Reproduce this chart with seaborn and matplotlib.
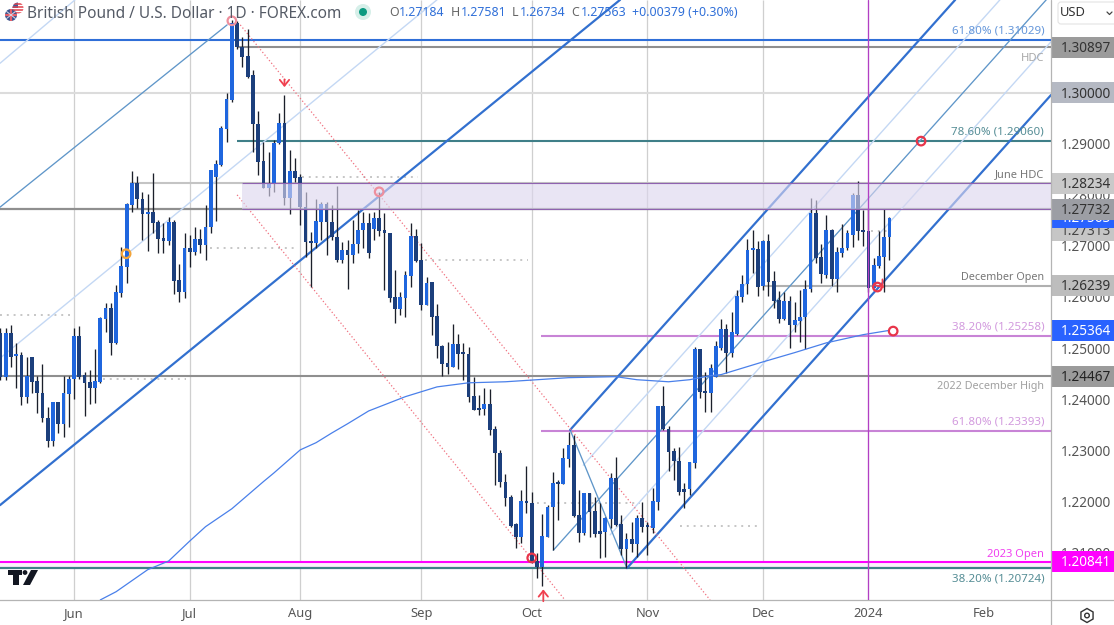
import numpy as np
import pandas as pd
import seaborn as sns
import matplotlib
matplotlib.use('Agg')
import matplotlib.pyplot as plt
from matplotlib.patches import Circle, Polygon, FancyBboxPatch, RegularPolygon

# daily candles, bar -14 is mid May 2023, bar 0 is 1 Jun 2023
opens = [
    1.2532,1.2446,1.2532,1.2487,1.2489,1.2407,1.2485,1.2438,1.2414,1.2366,
    1.2321,1.2397,1.2354,1.2413,1.2442,1.2526,1.2450,1.2436,1.2424,1.2436,
    1.2559,1.2580,1.2512,1.2610,1.2661,1.2782,1.2825,1.2793,1.2764,1.2768,
    1.2748,1.2717,1.2711,1.2748,1.2635,1.2612,1.2698,1.2690,1.2715,1.2704,
    1.2739,1.2836,1.2860,1.2930,1.2987,1.3137,1.3090,1.3073,1.3035,1.2940,
    1.2868,1.2815,1.2825,1.2903,1.2942,1.2795,1.2848,1.2836,1.2778,1.2711,
    1.2707,1.2748,1.2784,1.2748,1.2719,1.2674,1.2694,1.2684,1.2705,1.2733,
    1.2746,1.2735,1.2756,1.2733,1.2727,1.2602,1.2579,1.2600,1.2643,1.2721,
    1.2674,1.2586,1.2631,1.2565,1.2506,1.2473,1.2465,1.2510,1.2493,1.2491,
    1.2409,1.2383,1.2383,1.2393,1.2344,1.2297,1.2241,1.2211,1.2159,1.2133,
    1.2204,1.2200,1.2086,1.2075,1.2133,1.2192,1.2239,1.2237,1.2286,1.2313,
    1.2176,1.2141,1.2219,1.2184,1.2145,1.2143,1.2168,1.2248,1.2159,1.2110,
    1.2129,1.2120,1.2170,1.2155,1.2151,1.2202,1.2389,1.2344,1.2301,1.2282,
    1.2227,1.2227,1.2278,1.2500,1.2416,1.2414,1.2446,1.2502,1.2539,1.2493,
    1.2530,1.2602,1.2627,1.2694,1.2696,1.2623,1.2711,1.2633,1.2596,1.2559,
    1.2594,1.2547,1.2555,1.2563,1.2618,1.2766,1.2680,1.2645,1.2733,1.2637,
    1.2688,1.2698,1.2723,1.2801,1.2733,1.2731,1.2620,1.2663,1.2680,1.27184]
highs = [
    1.2541,1.2541,1.2547,1.2512,1.2495,1.2485,1.2485,1.2448,1.2471,1.2387,
    1.2397,1.2397,1.2448,1.2448,1.2541,1.2545,1.2455,1.2459,1.2500,1.2563,
    1.2590,1.2590,1.2625,1.2700,1.2785,1.2848,1.2838,1.2807,1.2803,1.2844,
    1.2752,1.2746,1.2758,1.2752,1.2666,1.2727,1.2723,1.2739,1.2735,1.2782,
    1.2850,1.2870,1.2936,1.3000,1.3143,1.3140,1.3110,1.3125,1.3045,1.2965,
    1.2905,1.2885,1.2909,1.2961,1.2996,1.2889,1.2873,1.2842,1.2807,1.2729,
    1.2793,1.2787,1.2787,1.2782,1.2819,1.2709,1.2713,1.2752,1.2772,1.2768,
    1.2766,1.2768,1.2807,1.2766,1.2727,1.2655,1.2612,1.2653,1.2746,1.2735,
    1.2707,1.2641,1.2631,1.2588,1.2508,1.2514,1.2549,1.2530,1.2512,1.2504,
    1.2446,1.2411,1.2424,1.2422,1.2350,1.2303,1.2256,1.2215,1.2161,1.2225,
    1.2272,1.2221,1.2102,1.2178,1.2196,1.2260,1.2245,1.2307,1.2338,1.2332,
    1.2225,1.2219,1.2219,1.2211,1.2200,1.2172,1.2258,1.2290,1.2176,1.2141,
    1.2163,1.2176,1.2202,1.2163,1.2229,1.2389,1.2428,1.2350,1.2307,1.2309,
    1.2239,1.2280,1.2504,1.2500,1.2455,1.2471,1.2516,1.2559,1.2549,1.2573,
    1.2616,1.2645,1.2715,1.2733,1.2711,1.2713,1.2725,1.2653,1.2614,1.2612,
    1.2604,1.2592,1.2616,1.2635,1.2795,1.2791,1.2705,1.2762,1.2735,1.2700,
    1.2745,1.2733,1.2805,1.2829,1.2772,1.2774,1.2678,1.2731,1.2774,1.27581]
lows = [
    1.2440,1.2440,1.2465,1.2424,1.2391,1.2395,1.2414,1.2375,1.2358,1.2309,
    1.2311,1.2336,1.2329,1.2348,1.2403,1.2442,1.2370,1.2393,1.2395,1.2434,
    1.2534,1.2489,1.2510,1.2602,1.2629,1.2768,1.2776,1.2713,1.2692,1.2727,
    1.2688,1.2688,1.2704,1.2608,1.2592,1.2600,1.2661,1.2684,1.2688,1.2674,
    1.2727,1.2750,1.2858,1.2905,1.2983,1.3086,1.3051,1.3030,1.2885,1.2840,
    1.2815,1.2799,1.2807,1.2901,1.2782,1.2764,1.2827,1.2743,1.2680,1.2621,
    1.2698,1.2713,1.2684,1.2713,1.2670,1.2668,1.2618,1.2668,1.2688,1.2698,
    1.2678,1.2713,1.2721,1.2616,1.2592,1.2551,1.2567,1.2563,1.2621,1.2670,
    1.2577,1.2586,1.2528,1.2483,1.2448,1.2452,1.2465,1.2461,1.2440,1.2397,
    1.2381,1.2372,1.2372,1.2332,1.2235,1.2231,1.2194,1.2153,1.2112,1.2121,
    1.2180,1.2082,1.2053,1.2037,1.2133,1.2108,1.2166,1.2237,1.2270,1.2172,
    1.2123,1.2137,1.2133,1.2133,1.2092,1.2094,1.2151,1.2155,1.2098,1.2073,
    1.2104,1.2094,1.2143,1.2098,1.2141,1.2186,1.2342,1.2262,1.2245,1.2215,
    1.2190,1.2215,1.2268,1.2405,1.2377,1.2377,1.2446,1.2498,1.2454,1.2485,
    1.2528,1.2592,1.2608,1.2649,1.2604,1.2616,1.2604,1.2580,1.2551,1.2557,
    1.2502,1.2534,1.2514,1.2500,1.2612,1.2668,1.2629,1.2639,1.2623,1.2612,
    1.2680,1.2694,1.2700,1.2713,1.2702,1.2612,1.2620,1.2659,1.2612,1.26734]
closes = [
    1.2446,1.2532,1.2485,1.2489,1.2407,1.2448,1.2436,1.2414,1.2366,1.2321,
    1.2397,1.2354,1.2414,1.2442,1.2526,1.2446,1.2434,1.2424,1.2438,1.2561,
    1.2580,1.2512,1.2612,1.2663,1.2784,1.2825,1.2793,1.2764,1.2768,1.2746,
    1.2715,1.2711,1.2748,1.2633,1.2612,1.2698,1.2690,1.2715,1.2704,1.2739,
    1.2850,1.2862,1.2932,1.2989,1.3137,1.3090,1.3071,1.3032,1.2940,1.2866,
    1.2815,1.2825,1.2903,1.2942,1.2795,1.2848,1.2834,1.2778,1.2709,1.2707,
    1.2750,1.2784,1.2748,1.2719,1.2674,1.2694,1.2684,1.2705,1.2733,1.2746,
    1.2688,1.2756,1.2731,1.2727,1.2600,1.2579,1.2602,1.2645,1.2721,1.2672,
    1.2586,1.2629,1.2563,1.2506,1.2471,1.2465,1.2510,1.2491,1.2491,1.2407,
    1.2381,1.2381,1.2393,1.2342,1.2297,1.2241,1.2209,1.2155,1.2133,1.2204,
    1.2200,1.2084,1.2075,1.2135,1.2192,1.2239,1.2237,1.2288,1.2313,1.2174,
    1.2141,1.2219,1.2182,1.2139,1.2139,1.2170,1.2248,1.2157,1.2110,1.2129,
    1.2120,1.2170,1.2153,1.2153,1.2204,1.2389,1.2344,1.2299,1.2282,1.2221,
    1.2221,1.2280,1.2500,1.2416,1.2414,1.2463,1.2506,1.2539,1.2493,1.2534,
    1.2604,1.2627,1.2694,1.2696,1.2621,1.2711,1.2631,1.2594,1.2559,1.2594,
    1.2547,1.2557,1.2563,1.2618,1.2766,1.2678,1.2647,1.2733,1.2637,1.2690,
    1.2698,1.2727,1.2801,1.2731,1.2729,1.2620,1.2664,1.2682,1.2719,1.27563]

# 200 day average, read at a few bars
ma_bars = [5,8,14,18,22,25,30,36,38,43,46,49,52,56,63,69,75,82,88,94,103,107,113,117,121,123,131,137,143,150,155]
ma_vals = [1.2010,1.2026,1.2069,1.2086,1.2125,1.2153,1.2188,1.2241,1.2258,1.2303,1.2317,1.2336,1.2354,1.2379,
           1.2407,1.2426,1.2434,1.2436,1.2440,1.2444,1.2446,1.2440,1.2436,1.2440,1.2448,1.2450,1.2475,1.2493,
           1.2512,1.2528,1.25364]

month_labels = ['Jun', 'Jul', 'Aug', 'Sep', 'Oct', 'Nov', 'Dec', '2024', 'Feb']
month_bars = [0, 22, 43, 66, 87, 109, 131, 151, 173]

axis_ticks = [1.29, 1.28, 1.27, 1.26, 1.25, 1.24, 1.23, 1.22, 1.21]
# later ones cover earlier ones on the scale
badge_prices = [1.30897, 1.30000, 1.28234, 1.25364, 1.24467, 1.20841, 1.26239, 1.27313, 1.27563, 1.27732]
badge_colors = ['#9b9b9b', '#b5b9c3', '#c9c9c9', '#2962ff', '#9b9b9b', '#ff00ff', '#bdbdbd', '#c6c6c6', '#2962ff', '#9c9ea4']
badge_text = ['#333333', '#333333', '#333333', 'white', '#222222', 'white', '#333333', '#444444', 'white', '#333333']

# trend lines as (bar, price) ends
thick_lines = [[(-14.07, 1.2195), (103.8, 1.3182)], [(94.3, 1.2342), (167.5, 1.3182)], [(105.1, 1.2072), (185.7, 1.2996)]]
mid_lines = [[(-14.07, 1.2777), (29.1, 1.3133)], [(91.1, 1.2107), (184.8, 1.3182)], [(94.3, 1.2342), (105.1, 1.2072)]]
pale_lines = [[(-14.07, 1.3058), (0.2, 1.3182)], [(-14.07, 1.2482), (69, 1.3182)],
              [(96.8, 1.2273), (176, 1.3182)], [(101.9, 1.2137), (185.7, 1.3100)]]
red_lines = [[(31.6, 1.3133), (120.9, 1.2010)], [(31, 1.2801), (93.3, 1.2010)]]

# level, first bar, colour, width
levels = [(1.31029, -14.1, '#2f6fd8', 1.5), (1.30897, 31, '#8f8f8f', 1.5), (1.30000, -14.1, '#dcdcdc', 1.5),
          (1.29060, 31, '#3f7f88', 1.5), (1.27732, -14.1, '#8f8f8f', 1.6), (1.28234, 10.6, '#c4c4c4', 1.5),
          (1.26239, 131, '#b0b0b0', 1.5), (1.25258, 88.8, '#c884d6', 1.5), (1.24467, -14.1, '#8f8f8f', 1.5),
          (1.23393, 88.8, '#c884d6', 1.5), (1.20841, -14.1, '#ff00ff', 1.5), (1.20724, -14.1, '#3f7f88', 1.6)]

dotted_levels = [(1.2836, 43.4, 65.4), (1.2698, 25.9, 42.4), (1.2674, 66.7, 86.3), (1.2567, -14.1, -0.4),
                 (1.2442, 5.5, 21.3), (1.2155, 115.2, 130.4), (1.2200, 88, 107.6), (1.2731, 151.5, 155)]

level_text = [('61.80% (1.31029)', 1.31210, '#6496da', 8.3), ('HDC', 1.30673, '#a8a8a8', 8.0), ('78.60% (1.29060)', 1.29238, '#558d95', 8.3),
              ('June HDC', 1.28398, '#777777', 8.0), ('December Open', 1.26405, '#777777', 7.8), ('38.20% (1.25258)', 1.25429, '#d29ade', 8.3),
              ('2022 December High', 1.24276, '#a0a0a0', 7.8), ('61.80% (1.23393)', 1.23573, '#d29ade', 8.3),
              ('2023 Open', 1.20995, '#f040f0', 8.0), ('38.20% (1.20724)', 1.20507, '#558d95', 8.3)]

circle_bars = [30, 58, 87, 152.7, 155.7, 161, 9.9]
circle_prices = [1.3141, 1.2807, 1.2092, 1.2621, 1.2535, 1.2906, 1.2686]
circle_colors = ['#ee8f9d', '#ee8f9d', '#e8354a', '#e8354a', '#e8354a', '#e8354a', '#f2a43a']

sns.set_theme(style='white')
plt.rcParams['font.family'] = ['Noto Sans', 'DejaVu Sans']

df = pd.DataFrame({'bar': np.arange(-14, 156), 'o': opens, 'h': highs, 'l': lows, 'c': closes})
df['up'] = df['c'] >= df['o']

W, H = 1114, 625
fig = plt.figure(figsize=(W / 100, H / 100), dpi=100, facecolor='white')
ax = fig.add_axes([0, 25 / H, 1051 / W, 600 / H])
ymin, ymax = 1.20098, 1.31816
xmin, xmax = -14.07, 185.7
ax.set_xlim(xmin, xmax)
ax.set_ylim(ymin, ymax)

# month grid, no line for 2024 and Feb
ax.vlines(month_bars[:7], ymin, ymax, color='#cfcfcf', lw=0.9, zorder=0)

ax.vlines(df['bar'], df['l'], df['h'], color='#1b1f2a', lw=0.95, zorder=3)
up = df[df['up']]
dn = df[~df['up']]
ax.bar(up['bar'], (up['c'] - up['o']).clip(lower=0.0004), bottom=up['o'], width=0.72, color='#1f66de', lw=0, zorder=4)
ax.bar(dn['bar'], (dn['o'] - dn['c']).clip(lower=0.0004), bottom=dn['c'], width=0.72, color='#1c3f7c', lw=0, zorder=4)

# June HDC zone sits over the candles
ax.fill_between([32, xmax], 1.27732, 1.28234, color='#dcd6ee', alpha=0.62, lw=0, zorder=5)

for lvl, start, col, lw in levels:
    ax.hlines(lvl, start, xmax, color=col, lw=lw, zorder=2)
ax.fill_between([xmin, xmax], 1.20724, 1.20841, color='#fbeefb', lw=0, zorder=1)
ax.hlines([1.27732, 1.28234], 32, xmax, color='#8f62b0', lw=0.8, zorder=6)
for lvl, a, b in dotted_levels:
    ax.hlines(lvl, a, b, color='#c6c6c6', lw=1.4, linestyles=(0, (1, 2.5)), zorder=1)

for pts in pale_lines:
    sns.lineplot(x=[p[0] for p in pts], y=[p[1] for p in pts], ax=ax, color='#c4d8f4', lw=1.0, zorder=2, errorbar=None)
for pts in mid_lines:
    sns.lineplot(x=[p[0] for p in pts], y=[p[1] for p in pts], ax=ax, color='#5f96c9', lw=0.95, zorder=2, errorbar=None)
for pts in thick_lines:
    sns.lineplot(x=[p[0] for p in pts], y=[p[1] for p in pts], ax=ax, color='#3270cf', lw=1.6, zorder=2, errorbar=None)
for pts in red_lines:
    sns.lineplot(x=[p[0] for p in pts], y=[p[1] for p in pts], ax=ax, color='#f0707f', lw=0.9, linestyle=(0, (1, 1.8)), zorder=2, errorbar=None)

sns.lineplot(x=ma_bars, y=ma_vals, ax=ax, color='#4a80ea', lw=0.9, zorder=5, errorbar=None)

ax.axvline(151, color='#b23fc4', lw=0.95, zorder=6)

ax.scatter(circle_bars, circle_prices, s=38, facecolors='none', edgecolors=circle_colors, linewidths=1.6, zorder=8)

arrow = dict(arrowstyle='->,head_length=0.35,head_width=0.28', color='#f0404f', lw=1.3)
ax.annotate('', xy=(40, 1.3006), xytext=(40, 1.3032), arrowprops=arrow, zorder=8)
ax.annotate('', xy=(89.2, 1.2036), xytext=(89.2, 1.2002), arrowprops=arrow, zorder=8)
ax.annotate('', xy=(154.2, 1.2615), xytext=(153.4, 1.2625), arrowprops=arrow, zorder=8)

for s, y, col, fs in level_text:
    ax.text(184.4, y, s, ha='right', va='center', fontsize=fs, color=col, zorder=9)

ax.set_xticks(month_bars)
ax.set_xticklabels(month_labels, fontsize=9.3, color='#555555')
ax.get_xticklabels()[7].set_fontweight('bold')
ax.tick_params(axis='x', length=0, pad=5)
ax.set_yticks([])
ax.set_xlabel('')
ax.set_ylabel('')
for s in ['top', 'left', 'right']:
    ax.spines[s].set_visible(False)
ax.spines['bottom'].set_color('#b4b4b4')
ax.spines['bottom'].set_linewidth(0.9)

# price scale
px = fig.add_axes([1051 / W, 25 / H, 63 / W, 600 / H])
px.set_xlim(0, 1)
px.set_ylim(ymin, ymax)
px.axis('off')
for t in axis_ticks:
    px.text(0.55, t - 0.0002, f'{t:.5f}', ha='center', va='center', fontsize=9.8, color='#555555', zorder=1)
for i, (p, c, tc) in enumerate(zip(badge_prices, badge_colors, badge_text)):
    px.barh(p, 1, height=0.0041, left=0, color=c, lw=0, zorder=2 + i)
    px.text(0.55, p - 0.0002, f'{p:.5f}', ha='center', va='center', fontsize=9.8, color=tc, zorder=2 + i)

# header and corner bits, in pixels
deco = fig.add_axes([0, 0, 1, 1], facecolor='none')
deco.set_xlim(0, W)
deco.set_ylim(H, 0)
deco.axis('off')
deco.plot([1051, 1051], [0, 625], color='#b4b4b4', lw=0.9)
deco.plot([1051, 1114], [600, 600], color='#b4b4b4', lw=0.9)

deco.text(27, 14, 'British Pound / U.S. Dollar · 1D · FOREX.com', fontsize=11.1, color='#555b66', va='center')
deco.add_patch(Circle((363, 12), 8, color='#d6efe9', lw=0))
deco.add_patch(Circle((363, 12), 4, color='#0b9a80', lw=0))
for x, s, col in [(389, 'O', '#666666'), (399, '1.27184', '#2f6fd8'), (451, 'H', '#666666'), (461, '1.27581', '#2f6fd8'),
                  (512, 'L', '#666666'), (520, '1.26734', '#2f6fd8'), (571, 'C', '#666666'), (581, '1.27563', '#2f6fd8'),
                  (632, '+0.00379 (+0.30%)', '#2f6fd8')]:
    deco.text(x, 13, s, fontsize=8.9, color=col, va='center')

# flags
us = Circle((18, 8), 5.5, color='white', lw=0)
deco.add_patch(us)
for yy in [4, 7, 10, 13]:
    deco.plot([12, 24], [yy, yy], color='#e0404a', lw=1.1, clip_path=us)
deco.add_patch(Polygon([(12, 2), (18, 2), (18, 8), (12, 8)], color='#3a5f9e', lw=0, clip_path=us))
uk = Circle((11, 15), 6, color='#38548f', lw=0)
deco.add_patch(uk)
deco.plot([4, 18], [15, 15], color='#e5606a', lw=1.6, clip_path=uk)
deco.plot([11, 11], [8, 22], color='#e5606a', lw=1.6, clip_path=uk)
deco.plot([6, 16], [11, 19], color='#d8d8e8', lw=0.7, clip_path=uk)
deco.plot([6, 16], [19, 11], color='#d8d8e8', lw=0.7, clip_path=uk)

# USD button
deco.add_patch(FancyBboxPatch((1058, 2), 60, 22, boxstyle='round,pad=0,rounding_size=3', fc='white', ec='#e3e3e3', lw=0.8))
deco.text(1060, 13, 'USD', fontsize=9.3, color='#333333', va='center')
deco.plot([1107, 1109.5, 1112], [12, 14.5, 12], color='#444444', lw=0.9)

# gear
deco.add_patch(RegularPolygon((1087, 615.5), 6, radius=7, fc='none', ec='#333333', lw=1.0))
deco.add_patch(Circle((1087, 615.5), 2.3, fc='none', ec='#333333', lw=1.0))

# TV logo
logo = '#131722'
deco.add_patch(Polygon([(8, 570), (22, 570), (22, 575), (19, 575), (19, 585), (13, 585), (13, 575), (8, 575)], color=logo, lw=0))
deco.add_patch(Circle((25, 572.5), 2.4, color=logo, lw=0))
deco.add_patch(Polygon([(31, 570), (38, 570), (30, 585), (23, 585)], color=logo, lw=0))

fig.savefig('out.png', dpi=100)
